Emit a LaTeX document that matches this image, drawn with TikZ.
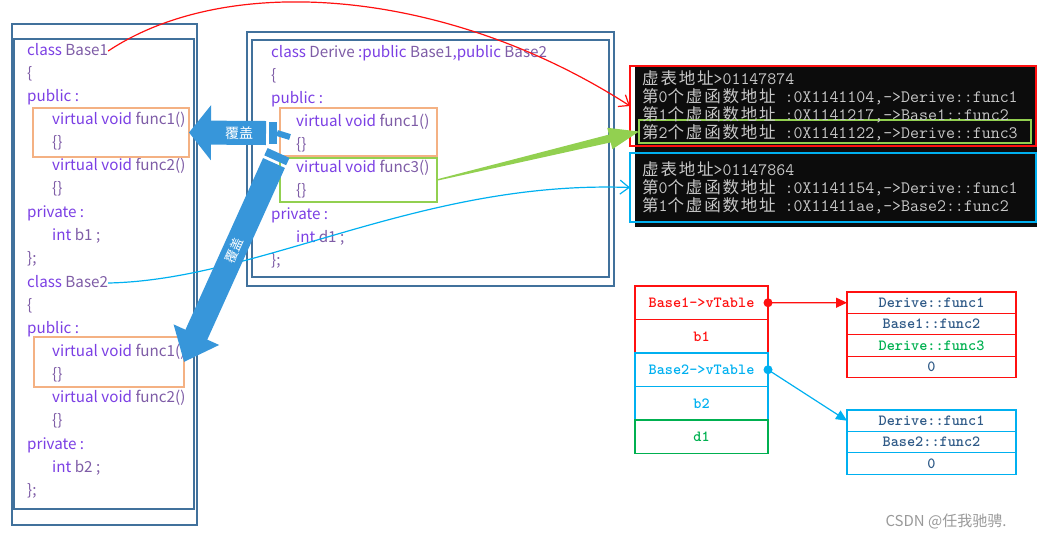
\documentclass[tikz,border=0pt]{standalone}
\usepackage{fontspec}
\setmainfont{Noto Sans CJK SC}
\newfontfamily\cjk{Noto Sans CJK SC}
\newfontfamily\cjkwide{Noto Sans CJK SC}[LetterSpace=11]
\usetikzlibrary{arrows.meta,positioning,calc}
\definecolor{framec}{HTML}{41719C}
\definecolor{kwc}{HTML}{7B3FE4}
\definecolor{nmc}{HTML}{7E5CA6}
\definecolor{orangec}{HTML}{F4B183}
\definecolor{lgreen}{HTML}{92D050}
\definecolor{dgreen}{HTML}{00B050}
\definecolor{skyc}{HTML}{00B0F0}
\definecolor{redc}{HTML}{FF1010}
\definecolor{arrowc}{HTML}{3796DA}
\definecolor{consbg}{HTML}{0C0C0C}
\definecolor{consfg}{HTML}{C8C8C8}
\definecolor{tabc}{HTML}{2F5A87}
\newcommand\nm[1]{\textcolor{nmc}{#1}}
\newcommand\zh[1]{{\cjkwide\fontsize{16.5}{18}\selectfont #1}}

\begin{document}
\begin{tikzpicture}[x=1pt,y=-1pt]
\tikzstyle{frame}=[draw=framec,line width=1.5pt]
\tikzstyle{code}=[anchor=west,inner sep=0pt,text height=12pt,text depth=4pt,text=kwc,font=\fontsize{15.2}{18}\selectfont]
\tikzstyle{hbox}=[draw,line width=1.5pt,inner sep=0pt,outer sep=0pt]
\tikzstyle{con}=[anchor=west,inner sep=0pt,text=consfg,font=\ttfamily\fontsize{17.4}{18}\selectfont]
\tikzstyle{cell}=[draw,line width=1.2pt,inner sep=0pt,outer sep=0pt,minimum width=133pt,minimum height=33.5pt,font=\ttfamily\bfseries\fontsize{15.5}{16}\selectfont]
\tikzstyle{slot}=[draw,line width=1.2pt,inner sep=0pt,outer sep=0pt,minimum width=169pt,minimum height=21.4pt,text=tabc,font=\ttfamily\bfseries\fontsize{15.5}{16}\selectfont]
\tikzstyle{bigarrow}=[draw=arrowc,line width=24pt]
\useasboundingbox (0,0) rectangle (1051,539);

% class frames
\draw[frame] (12,24) rectangle (197,525);
\draw[frame] (14,39) rectangle (194,509);
\draw[frame] (247,32) rectangle (614,286);
\draw[frame] (252,40) rectangle (609,277);

% Base1
\node[code] (base1) at (27,51) {class \nm{Base1}};
\node[code] (a2) at (27,74) {\nm{\{}};
\node[code] (a3) at (27,97) {public :};
\node[code] (a4) at (52,120) {virtual void \nm{func1()}};
\node[code] (a5) at (52,143) {\nm{\{\}}};
\node[code] (a6) at (52,166) {virtual void \nm{func2()}};
\node[code] (a7) at (52,189) {\nm{\{\}}};
\node[code] (a8) at (27,213) {private :};
\node[code] (a9) at (52,236) {int \nm{b1 ;}};
\node[code] (a10) at (27,259) {\nm{\};}};
\node[hbox,draw=orangec,minimum width=156pt,minimum height=49pt] (bf1) at (111,132.5) {};

% Base2
\node[code] (base2) at (27,283) {class \nm{Base2}};
\node[code] (c2) at (27,306) {\nm{\{}};
\node[code] (c3) at (27,329) {public :};
\node[code] (c4) at (52,352) {virtual void \nm{func1()}};
\node[code] (c5) at (52,375) {\nm{\{\}}};
\node[code] (c6) at (52,398) {virtual void \nm{func2()}};
\node[code] (c7) at (52,421) {\nm{\{\}}};
\node[code] (c8) at (27,445) {private :};
\node[code] (c9) at (52,468) {int \nm{b2 ;}};
\node[code] (c10) at (27,491) {\nm{\};}};
\node[hbox,draw=orangec,minimum width=150pt,minimum height=50pt] (bf2) at (109,362) {};

% Derive
\node[code] (derive) at (271,53) {class \nm{Derive} :public \nm{Base1},public \nm{Base2}};
\node[code] (d2) at (271,76) {\nm{\{}};
\node[code] (d3a) at (271,99) {public :};
\node[code] (d4) at (296,122) {virtual void \nm{func1()}};
\node[code] (d5) at (296,145) {\nm{\{\}}};
\node[code] (d6) at (296,168) {virtual void \nm{func3()}};
\node[code] (d7) at (296,191) {\nm{\{\}}};
\node[code] (d8) at (271,215) {private :};
\node[code] (d9) at (296,238) {int \nm{d1 ;}};
\node[code] (d10) at (271,261) {\nm{\};}};
\node[hbox,draw=orangec,minimum width=157pt,minimum height=48pt] (df1) at (358.5,132) {};
\node[hbox,draw=lgreen,minimum width=157pt,minimum height=44pt] (d3) at (358.5,180) {};

% console output
\fill[consbg] (635,66) rectangle (1037,227);
\node[hbox,draw=redc,minimum width=406pt,minimum height=80pt] (vt1) at (833,106) {};
\node[hbox,draw=lgreen,minimum width=392pt,minimum height=23pt] (g3) at (835,131.5) {};
\node[hbox,draw=skyc,minimum width=406pt,minimum height=69pt] (vt2) at (833,187.5) {};
\node[con] (t1) at (642,78) {\zh{虚表地址}>01147874};
\node[con] (t2) at (642,97) {\zh{第}0\zh{个虚函数地址} :0X1141104,->Derive::func1};
\node[con] (t3) at (642,115) {\zh{第}1\zh{个虚函数地址} :0X1141217,->Base1::func2};
\node[con] (t4) at (642,133) {\zh{第}2\zh{个虚函数地址} :0X1141122,->Derive::func3};
\node[con] (t5) at (642,169) {\zh{虚表地址}>01147864};
\node[con] (t6) at (642,188) {\zh{第}0\zh{个虚函数地址} :0X1141154,->Derive::func1};
\node[con] (t7) at (642,206) {\zh{第}1\zh{个虚函数地址} :0X11411ae,->Base2::func2};

% object layout
\node[cell,draw=redc,text=redc] (p1) at (701.5,302.75) {Base1->vTable};
\node[cell,draw=redc,text=redc,below=0pt of p1] (p2) {b1};
\node[cell,draw=skyc,text=skyc,below=0pt of p2] (p3) {Base2->vTable};
\node[cell,draw=skyc,text=skyc,below=0pt of p3] (p4) {b2};
\node[cell,draw=dgreen,text=dgreen,below=0pt of p4] (p5) {d1};

\node[slot,draw=redc] (r1) at (931.5,302.7) {Derive::func1};
\node[slot,draw=redc,below=0pt of r1] (r2) {Base1::func2};
\node[slot,draw=redc,text=dgreen,below=0pt of r2] (r3) {Derive::func3};
\node[slot,draw=redc,below=0pt of r3] (r4) {0};

\node[slot,draw=skyc] (b1) at (931.5,420.7) {Derive::func1};
\node[slot,draw=skyc,below=0pt of b1] (b2) {Base2::func2};
\node[slot,draw=skyc,below=0pt of b2] (b3) {0};

\fill[redc] (p1.east) circle (4.5);
\fill[skyc] (p3.east) circle (4.5);
\draw[redc,line width=1.2pt,-{Triangle[length=11pt,width=10pt]}] (p1.east) -- (r1.west);
\draw[skyc,line width=1.2pt,-{Triangle[length=11pt,width=10pt]}] (p3.east) -- (b1.west);

% pointers to the tables
\draw[redc,line width=1.2pt,-{Straight Barb[length=9pt,width=14pt]}] (base1.east) .. controls (230,-30) and (450,-10) .. (vt1.west);
\draw[skyc,line width=1.2pt,-{Straight Barb[length=9pt,width=14pt]}] (base2.east) .. controls (260,280) and (420,180) .. (vt2.west);

% func3 goes into the Base1 table
\fill[lgreen] (437,179.3) -- (608.9,134.6) -- (607.2,127.8) -- (g3.west) -- (612.4,149.2) -- (610.7,142.4) -- (437,180.7) -- cycle;

% override arrows
\coordinate (s1) at (266,133);
\coordinate (s2) at (274,163);
\draw[bigarrow,-{Triangle[width=54pt,length=22pt]}] (s1) -- (bf1.east)
  node[pos=0.35,text=white,font=\fontsize{14}{14}\selectfont] (cov1) {覆盖};
\fill[arrowc] (269,122) rectangle (277,144);
\draw[arrowc,line width=6pt] (277,133) -- (290,137);
\draw[bigarrow,-{Triangle[width=48pt,length=30pt]}] (s2) -- (bf2.east)
  node[pos=0.44,sloped,inner sep=1pt,text=white,font=\fontsize{13}{13}\selectfont] (cov2) {覆盖};
\draw[arrowc,line width=24pt] ($(s2)!-3pt!(bf2.east)$) -- ($(s2)!-11pt!(bf2.east)$);

\node[text=gray!80,font=\fontsize{15}{15}\selectfont] (mark) at (946,521) {CSDN @任我驰骋.};
\end{tikzpicture}
\end{document}
